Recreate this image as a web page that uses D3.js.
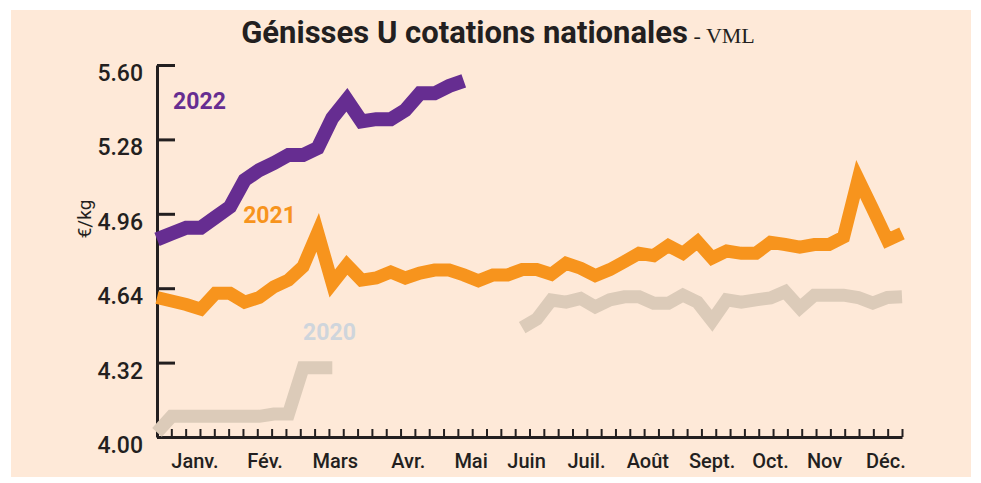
<!DOCTYPE html>
<meta charset="utf-8">
<title>Génisses U cotations nationales</title>
<style>
  body { margin: 0; background: #fff; }
  .line { fill: none; stroke-linejoin: miter; stroke-linecap: butt; }
  .axis path, .axis line { stroke: #231f20; }
  .axis text { fill: #231f20; font-family: Roboto, sans-serif; font-weight: 500; }
</style>
<body>
<script src="https://d3js.org/d3.v7.min.js"></script>
<script>
// weekly quotations, week 1..52
var weeks = d3.range(1, 53);

var v2022 = [4.85, 4.875, 4.90, 4.90, 4.945, 4.99, 5.105, 5.148, 5.178, 5.213, 5.213, 5.243,
  5.372, 5.45, 5.357, 5.367, 5.367, 5.406, 5.478, 5.478, 5.51, 5.532];

var v2021 = [4.60, 4.585, 4.57, 4.55, 4.618, 4.618, 4.58, 4.60, 4.646, 4.675, 4.733, 4.88,
  4.66, 4.74, 4.675, 4.684, 4.71, 4.684, 4.705, 4.718, 4.718, 4.697, 4.672, 4.697,
  4.697, 4.72, 4.72, 4.70, 4.747, 4.726, 4.694, 4.72, 4.754, 4.79, 4.78, 4.823,
  4.79, 4.84, 4.77, 4.80, 4.79, 4.79, 4.837, 4.828, 4.817, 4.828, 4.828, 4.86,
  5.11, 4.98, 4.847, 4.876];

var v2020 = [4.02, 4.089, 4.089, 4.089, 4.089, 4.089, 4.089, 4.089, 4.099, 4.099, 4.298, 4.298,
  4.298, null, null, null, null, null, null, null, null, null, null, null,
  null, 4.47, 4.507, 4.589, 4.58, 4.596, 4.56, 4.59, 4.603, 4.603, 4.575, 4.575,
  4.61, 4.58, 4.50, 4.59, 4.58, 4.59, 4.598, 4.625, 4.555, 4.61, 4.61, 4.61,
  4.60, 4.576, 4.60, 4.603];

var yTicks = [4.00, 4.32, 4.64, 4.96, 5.28, 5.60];
var months = ["Janv.", "Fév.", "Mars", "Avr.", "Mai", "Juin", "Juil.", "Août", "Sept.", "Oct.", "Nov", "Déc."];
var monthPos = [3.6, 8.4, 13.2, 18.2, 22.5, 26.3, 30.4, 34.6, 39.0, 43.0, 46.7, 50.9];

var series = [
  {name: "2020", values: v2020, color: "#dccbb9", label: "#cfd5dc", width: 13, at: [11.0, 4.417]},
  {name: "2021", values: v2021, color: "#f7941d", label: "#f7941d", width: 13, at: [6.9, 4.92]},
  {name: "2022", values: v2022, color: "#662d91", label: "#662d91", width: 14, at: [2.1, 5.41]}
];

var W = 981, H = 483;
var svg = d3.select("body").append("svg")
  .attr("width", W)
  .attr("height", H);

// peach panel
svg.append("rect")
  .attr("x", 11).attr("y", 10)
  .attr("width", 960).attr("height", 467)
  .attr("fill", "#fee9d8");

var x = d3.scaleLinear().domain([1, 52]).range([157, 902]);
var xWeek = d3.scaleLinear().domain([0, 52]).range([157, 902]);
var y = d3.scaleLinear().domain([4.0, 5.6]).range([437, 65]);

// title
var title = svg.append("text")
  .attr("x", 498).attr("y", 43)
  .attr("text-anchor", "middle")
  .attr("fill", "#231f20");
title.append("tspan")
  .style("font-family", "Roboto, sans-serif")
  .style("font-weight", "700")
  .style("font-size", "31px")
  .text("Génisses U cotations nationales");
title.append("tspan")
  .style("font-family", "'Liberation Serif', serif")
  .style("font-size", "22px")
  .text(" - VML");

// y axis
var yAxis = svg.append("g")
  .attr("class", "axis")
  .attr("transform", "translate(157,0)")
  .call(d3.axisLeft(y)
    .tickValues(yTicks)
    .tickSizeInner(-18)
    .tickSizeOuter(0)
    .tickPadding(14)
    .tickFormat(d3.format(".2f")));
yAxis.select(".domain").attr("stroke-width", 3);
yAxis.selectAll(".tick line").attr("stroke-width", 3);
yAxis.selectAll(".tick text")
  .attr("dy", "15.5px")
  .style("font-size", "23px");

// x axis: weekly ticks
var xAxis = svg.append("g")
  .attr("class", "axis")
  .attr("transform", "translate(0,437)")
  .call(d3.axisBottom(xWeek)
    .tickValues(d3.range(1, 53))
    .tickSizeInner(-8)
    .tickSizeOuter(0)
    .tickFormat(""));
xAxis.select(".domain").attr("stroke-width", 3);
xAxis.selectAll(".tick line").attr("stroke-width", 2);

// month labels
svg.append("g")
  .attr("class", "axis")
  .selectAll("text")
  .data(months)
  .enter().append("text")
  .attr("x", function(d, i) { return x(monthPos[i]); })
  .attr("y", 468)
  .attr("text-anchor", "middle")
  .style("font-size", "20px")
  .text(function(d) { return d; });

// unit
svg.append("text")
  .attr("transform", "translate(91,219) rotate(-90)")
  .attr("text-anchor", "middle")
  .style("font-family", "Roboto, sans-serif")
  .style("font-size", "19px")
  .attr("fill", "#231f20")
  .text("€/kg");

// lines
var line = d3.line()
  .defined(function(d) { return d != null; })
  .x(function(d, i) { return x(weeks[i]); })
  .y(function(d) { return y(d); });

svg.selectAll(".line")
  .data(series)
  .enter().append("path")
  .attr("class", "line")
  .attr("stroke", function(d) { return d.color; })
  .attr("stroke-width", function(d) { return d.width; })
  .attr("d", function(d) { return line(d.values); });

// year labels
svg.selectAll(".year")
  .data(series)
  .enter().append("text")
  .attr("class", "year")
  .attr("x", function(d) { return x(d.at[0]); })
  .attr("y", function(d) { return y(d.at[1]); })
  .attr("fill", function(d) { return d.label; })
  .style("font-family", "Roboto, sans-serif")
  .style("font-weight", "700")
  .style("font-size", "23px")
  .text(function(d) { return d.name; });
</script>
</body>
